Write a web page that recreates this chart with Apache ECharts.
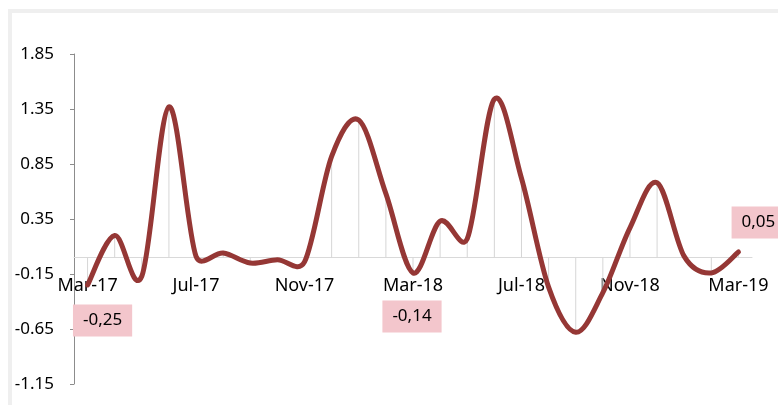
<!DOCTYPE html>
<html>
<head>
<meta charset="utf-8">
<script src="https://cdn.jsdelivr.net/npm/echarts@6/dist/echarts.min.js"></script>
<style>
  html, body { margin: 0; padding: 0; background: #ffffff; }
  #frame { position: absolute; left: 8px; top: 9px; width: 800px; height: 420px;
           border-left: 4px solid #efefef; border-top: 4px solid #efefef; }
  #chart { position: absolute; left: 0; top: 0; width: 778px; height: 405px; }
</style>
</head>
<body>
<div id="frame"></div>
<div id="chart"></div>
<script>
const categories = ['Mar-17','Apr-17','May-17','Jun-17','Jul-17','Aug-17','Sep-17','Oct-17','Nov-17','Dec-17',
  'Jan-18','Feb-18','Mar-18','Apr-18','May-18','Jun-18','Jul-18','Aug-18','Sep-18','Oct-18','Nov-18','Dec-18',
  'Jan-19','Feb-19','Mar-19'];
const values = [-0.25, 0.20, -0.17, 1.37, 0.01, 0.04, -0.05, -0.02, -0.04, 0.92,
  1.25, 0.58, -0.14, 0.33, 0.17, 1.44, 0.72, -0.27, -0.68, -0.32, 0.27, 0.68,
  0.01, -0.14, 0.05];
const labeledIndices = [0, 12, 24];
const yTicks = [-1.15, -0.65, -0.15, 0.35, 0.85, 1.35, 1.85];

const LINE_COLOR = '#953735';

const labelPlacement = {
  0:  { position: 'bottom', distance: 19, offset: [15, 0] },
  12: { position: 'bottom', distance: 27, offset: [-1, 0] },
  24: { position: 'top', distance: 13, offset: [20, 0] }
};

const lineData = values.map((v, i) => {
  if (labeledIndices.indexOf(i) >= 0) {
    return {
      value: v,
      label: Object.assign({
        show: true,
        formatter: p => p.value.toFixed(2).replace('.', ','),
        backgroundColor: '#f3c6cc',
        padding: [5, 10],
        fontSize: 17,
        lineHeight: 22,
        color: '#000',
        fontFamily: 'Noto Sans'
      }, labelPlacement[i])
    };
  }
  return v;
});

// Excel-like smoothed line: Catmull-Rom (tension 1/6) Bezier with handle clamp
function smoothPath(p) {
  const n = p.length;
  let d = 'M' + p[0][0] + ',' + p[0][1];
  for (let i = 0; i < n - 1; i++) {
    const p0 = p[Math.max(i - 1, 0)], p1 = p[i], p2 = p[i + 1], p3 = p[Math.min(i + 2, n - 1)];
    const half = Math.hypot(p2[0] - p1[0], p2[1] - p1[1]) / 2;
    let ax = (p2[0] - p0[0]) / 6, ay = (p2[1] - p0[1]) / 6;
    let la = Math.hypot(ax, ay);
    if (la > half && la > 0) { ax *= half / la; ay *= half / la; }
    let bx = (p3[0] - p1[0]) / 6, by = (p3[1] - p1[1]) / 6;
    let lb = Math.hypot(bx, by);
    if (lb > half && lb > 0) { bx *= half / lb; by *= half / lb; }
    d += ' C' + (p1[0] + ax) + ',' + (p1[1] + ay) + ' ' + (p2[0] - bx) + ',' + (p2[1] - by) + ' ' + p2[0] + ',' + p2[1];
  }
  return d;
}

const chart = echarts.init(document.getElementById('chart'), null, { renderer: 'canvas' });
chart.setOption({
  backgroundColor: 'transparent',
  animation: false,
  grid: { left: 74, right: 26, top: 54, bottom: 21, containLabel: false, outerBoundsMode: 'none' },
  xAxis: {
    type: 'category',
    data: categories,
    boundaryGap: true,
    axisLine: { onZero: true, lineStyle: { color: '#d9d9d9', width: 1 } },
    axisTick: { show: false },
    axisLabel: { interval: 3, margin: -107, fontSize: 18, color: '#000', fontFamily: 'Noto Sans' },
    splitLine: { show: false }
  },
  yAxis: {
    type: 'value',
    min: yTicks[0],
    max: yTicks[yTicks.length - 1],
    interval: 0.5,
    splitLine: { show: false },
    axisLine: { show: true, onZero: false, lineStyle: { color: '#8c8c8c', width: 1 } },
    axisTick: { show: true, length: 4, lineStyle: { color: '#8c8c8c' } },
    axisLabel: { margin: 20, fontSize: 17, color: '#000', fontFamily: 'Noto Sans',
      formatter: v => (Math.round(v * 100) / 100).toFixed(2) }
  },
  series: [
    {
      type: 'bar',
      data: values,
      barWidth: 1,
      itemStyle: { color: '#d6d6d6' },
      silent: true,
      z: 1
    },
    {
      type: 'custom',
      data: values.map((v, i) => [i, v]),
      encode: { x: 0, y: 1 },
      silent: true,
      z: 2,
      renderItem: function (params, api) {
        if (params.dataIndex !== 0) return null;
        const pts = values.map((v, i) => api.coord([i, v]));
        return {
          type: 'path',
          shape: { pathData: smoothPath(pts) },
          style: { fill: 'none', stroke: LINE_COLOR, lineWidth: 5, lineJoin: 'round', lineCap: 'round' }
        };
      }
    },
    {
      type: 'line',
      data: lineData,
      showSymbol: true,
      symbol: 'circle',
      symbolSize: 1,
      itemStyle: { color: LINE_COLOR },
      lineStyle: { width: 0, opacity: 0 },
      z: 3
    }
  ]
});
</script>
</body>
</html>
